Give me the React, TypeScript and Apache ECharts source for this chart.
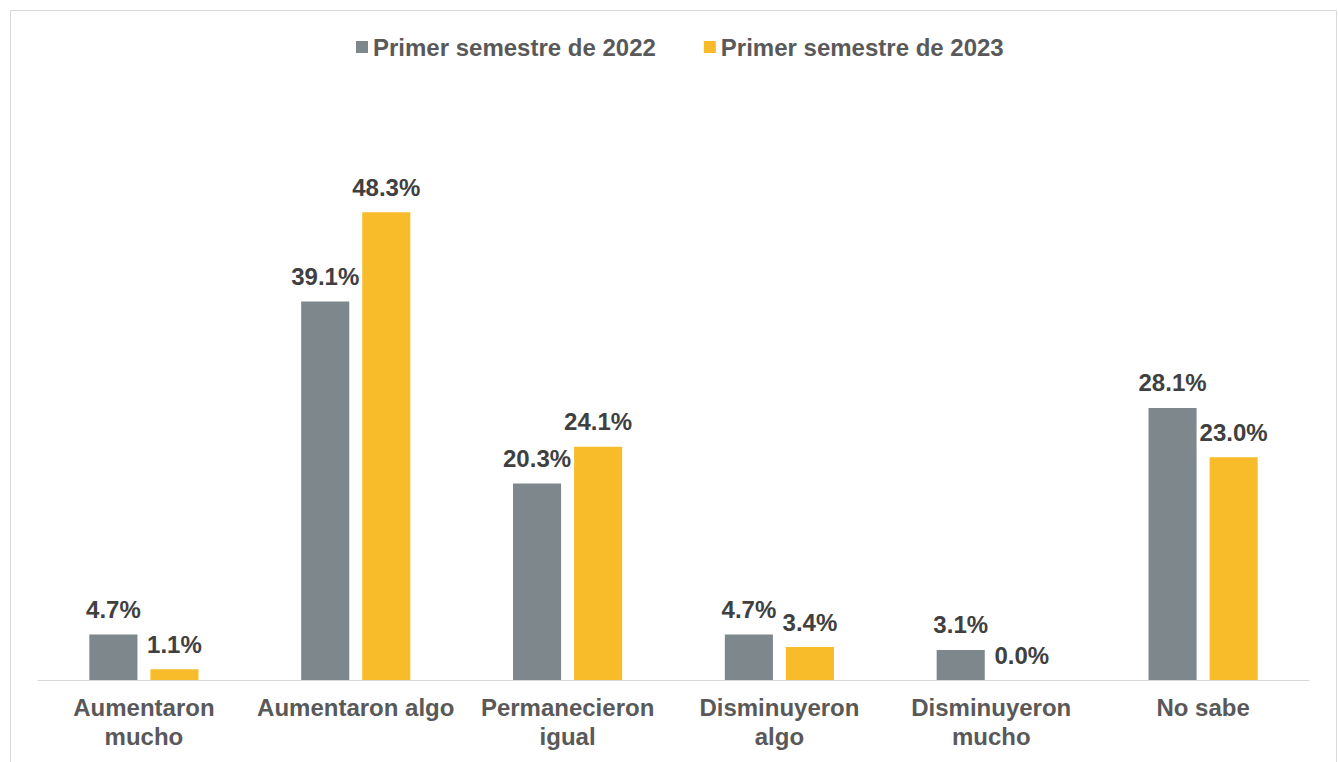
import React, { useEffect, useRef } from "react";
import * as echarts from "echarts";

const categories = [
  "Aumentaron\nmucho",
  "Aumentaron algo",
  "Permanecieron\nigual",
  "Disminuyeron\nalgo",
  "Disminuyeron\nmucho",
  "No sabe",
];
const seriesNames = ["Primer semestre de 2022", "Primer semestre de 2023"];
const values2022 = [4.7, 39.1, 20.3, 4.7, 3.1, 28.1];
const values2023 = [1.1, 48.3, 24.1, 3.4, 0.0, 23.0];
const colors = ["#7E878C", "#F8BB2A"];

export default function App() {
  const ref = useRef<HTMLDivElement>(null);
  useEffect(() => {
    if (!ref.current) return;
    const chart = echarts.init(ref.current, null, { renderer: "svg" });
    const font = "Arial, 'Liberation Sans', sans-serif";
    const label = {
      show: true,
      position: "top" as const,
      distance: 13,
      formatter: (p: any) => p.value.toFixed(1) + "%",
      fontFamily: font,
      fontWeight: "bold" as const,
      fontSize: 24,
      color: "#404040",
    };
    chart.setOption({
      animation: false,
      backgroundColor: "#ffffff",
      textStyle: { fontFamily: font },
      graphic: [
        {
          type: "rect",
          shape: { x: 10.5, y: 10.5, width: 1326, height: 770 },
          style: { fill: "none", stroke: "#d9d9d9", lineWidth: 1 },
          silent: true,
        },
      ],
      legend: {
        top: 30,
        left: 351,
        itemWidth: 12,
        itemHeight: 12,
        itemGap: 48,
        icon: "rect",
        textStyle: {
          fontFamily: font,
          fontWeight: "bold",
          fontSize: 24,
          color: "#595959",
        },
        data: seriesNames,
      },
      grid: { left: 38, right: 29, top: 99, bottom: 82 },
      xAxis: {
        type: "category",
        data: categories,
        axisLine: { lineStyle: { color: "#d9d9d9", width: 1 } },
        axisTick: { show: false },
        axisLabel: {
          interval: 0,
          margin: 13,
          fontFamily: font,
          fontWeight: "bold",
          fontSize: 24,
          lineHeight: 29,
          color: "#595959",
        },
      },
      yAxis: {
        type: "value",
        min: 0,
        max: 60,
        show: false,
        splitLine: { show: false },
      },
      series: [
        {
          name: seriesNames[0],
          type: "bar",
          data: values2022,
          barWidth: "22.7%",
          barGap: "27%",
          itemStyle: { color: colors[0] },
          label,
        },
        {
          name: seriesNames[1],
          type: "bar",
          data: values2023,
          barWidth: "22.7%",
          itemStyle: { color: colors[1] },
          label,
        },
      ],
    });
    return () => chart.dispose();
  }, []);
  return (
    <div
      ref={ref}
      style={{ position: "fixed", left: 0, top: 0, width: 1338, height: 762 }}
    />
  );
}
